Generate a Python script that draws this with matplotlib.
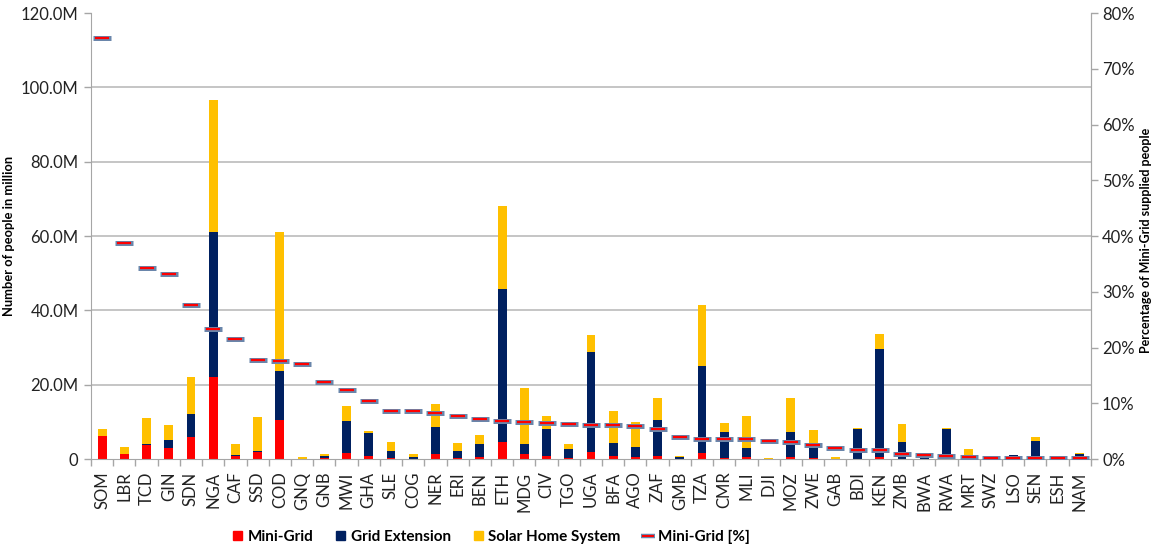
#importing modules
import numpy as np
from matplotlib import pyplot as plt
from matplotlib.lines import Line2D
from matplotlib.patches import Patch

plt.rcParams['font.family'] = ['Lato', 'DejaVu Sans']

#data (million people / percent)
countries = ['SOM', 'LBR', 'TCD', 'GIN', 'SDN', 'NGA', 'CAF', 'SSD', 'COD', 'GNQ', 'GNB', 'MWI', 'GHA',
             'SLE', 'COG', 'NER', 'ERI', 'BEN', 'ETH', 'MDG', 'CIV', 'TGO', 'UGA', 'BFA', 'AGO', 'ZAF', 'GMB',
             'TZA', 'CMR', 'MLI', 'DJI', 'MOZ', 'ZWE', 'GAB', 'BDI', 'KEN', 'ZMB', 'BWA', 'RWA', 'MRT', 'SWZ',
             'LSO', 'SEN', 'ESH', 'NAM']
mini_grid = [6.2, 1.25, 3.8, 3.05, 5.9, 22.2, 0.85, 2.0, 10.6, 0.08, 0.19, 1.7, 0.78,
             0.4, 0.12, 1.22, 0.33, 0.45, 4.6, 1.29, 0.75, 0.25, 2.0, 0.79, 0.58, 0.86, 0.03,
             1.5, 0.35, 0.41, 0.01, 0.5, 0.19, 0.01, 0.13, 0.54, 0.08, 0.01, 0.04, 0.01, 0.0,
             0.0, 0.01, 0.0, 0.0]
grid_ext = [0.0, 0.05, 0.3, 2.05, 6.1, 38.9, 0.35, 0.25, 13.2, 0.0, 0.55, 8.5, 6.1,
            1.7, 0.5, 7.3, 1.8, 3.7, 41.2, 2.75, 7.2, 2.4, 26.8, 3.6, 2.6, 9.6, 0.4,
            23.45, 7.0, 2.6, 0.0, 6.8, 3.0, 0.0, 8.0, 28.95, 4.4, 0.6, 8.0, 0.3, 0.3,
            1.0, 4.8, 0.2, 1.25]
solar_home = [1.9, 1.9, 7.0, 4.1, 10.1, 35.4, 2.8, 9.0, 37.4, 0.4, 0.6, 4.1, 0.6,
              2.5, 0.8, 6.3, 2.1, 2.2, 22.4, 15.2, 3.7, 1.4, 4.5, 8.5, 6.7, 6.0, 0.3,
              16.6, 2.4, 8.5, 0.3, 9.2, 4.5, 0.45, 0.2, 4.1, 4.85, 0.15, 0.2, 2.4, 0.5,
              0.15, 1.0, 0.1, 0.35]
mini_pct = [75.6, 38.7, 34.3, 33.1, 27.6, 23.3, 21.6, 17.8, 17.5, 17.0, 13.9, 12.4, 10.4,
            8.7, 8.7, 8.25, 7.8, 7.1, 6.8, 6.7, 6.5, 6.3, 6.1, 6.1, 5.9, 5.3, 3.9,
            3.6, 3.6, 3.6, 3.2, 3.05, 2.5, 2.0, 1.6, 1.6, 0.85, 0.7, 0.55, 0.35, 0.15,
            0.1, 0.1, 0.1, 0.1]

RED = '#FF0000'
NAVY = '#002060'
GOLD = '#FFC000'
EDGE = '#6a86ab'
GRAY = '#a6a6a6'

x = np.arange(len(countries))
mini_grid = np.array(mini_grid)
grid_ext = np.array(grid_ext)
solar_home = np.array(solar_home)

fig = plt.figure(figsize=(11.56, 5.49), dpi=100)
ax = fig.add_axes([0.0787, 0.1639, 0.865, 0.8124])

#gridlines behind bars
for g in [20, 40, 60, 80, 100]:
    ax.axhline(g, color='#c0c0c0', lw=1.3, zorder=0)

w = 0.4
ax.bar(x, mini_grid, w, color=RED, zorder=2)
ax.bar(x, grid_ext, w, bottom=mini_grid, color=NAVY, zorder=2)
ax.bar(x, solar_home, w, bottom=mini_grid + grid_ext, color=GOLD, zorder=2)

ax.set_xlim(-0.5, len(countries) - 0.5)
ax.set_ylim(0, 120)
ax.set_yticks([0, 20, 40, 60, 80, 100, 120])
ax.set_yticklabels(['0', '20.0M', '40.0M', '60.0M', '80.0M', '100.0M', '120.0M'])
ax.set_xticks(x)
ax.set_xticklabels(countries, rotation=90)
ax.set_xticks(np.arange(len(countries) + 1) - 0.5, minor=True)
ax.tick_params(axis='x', which='major', length=0, pad=9, labelsize=12, labelcolor='#222222')
ax.tick_params(axis='x', which='minor', length=5, color=GRAY, width=1)
ax.tick_params(axis='y', length=5, color=GRAY, width=1, labelsize=12, labelcolor='#222222', pad=4)
ax.set_ylabel('Number of people in million', fontsize=9.3, fontweight='bold', labelpad=4)
for s in ['top']:
    ax.spines[s].set_visible(False)
for s in ['left', 'bottom', 'right']:
    ax.spines[s].set_color(GRAY)

#secondary axis for mini-grid share
ax2 = ax.twinx()
ax2.set_ylim(0, 80)
ax2.set_yticks(range(0, 90, 10))
ax2.set_yticklabels(['%d%%' % v for v in range(0, 90, 10)])
ax2.tick_params(axis='y', length=5, color=GRAY, width=1, labelsize=12, labelcolor='#222222', pad=3)
ax2.set_ylabel('Percentage of Mini-Grid supplied people', fontsize=9, fontweight='bold')
ax2.yaxis.set_label_coords(1.049, 0.49)
ax2.spines['top'].set_visible(False)
ax2.spines['right'].set_color(GRAY)
ax2.spines['left'].set_visible(False)
ax2.spines['bottom'].set_visible(False)
ax2.plot(x, mini_pct, ls='none', marker='_', ms=12.5, mew=3.6, color=EDGE, zorder=3)
ax2.plot(x, mini_pct, ls='none', marker='_', ms=10.5, mew=1.6, color=RED, zorder=4)

#legend
handles = [Patch(color=RED), Patch(color=NAVY), Patch(color=GOLD),
           (Line2D([], [], ls='none', marker='_', ms=10, mew=3.2, color=EDGE),
            Line2D([], [], ls='none', marker='_', ms=8.5, mew=1.4, color=RED))]
labels = ['Mini-Grid', 'Grid Extension', 'Solar Home System', 'Mini-Grid [%]']
fig.legend(handles, labels, loc='center', bbox_to_anchor=(0.425, 0.022), ncol=4, frameon=False,
           prop={'weight': 'bold', 'size': 11}, handlelength=0.6, handleheight=0.6,
           handletextpad=0.35, columnspacing=1.5)

plt.savefig('out.png', dpi=100)
